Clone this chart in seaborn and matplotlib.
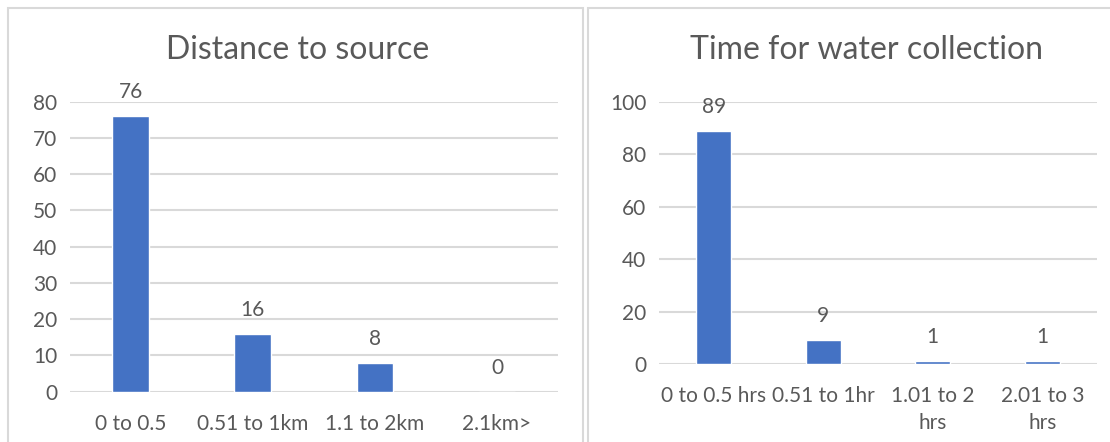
import matplotlib
matplotlib.use("Agg")
import matplotlib.pyplot as plt
from matplotlib.patches import Rectangle
import seaborn as sns
import pandas as pd

# Survey results
distance_labels = ["0 to 0.5", "0.51 to 1km", "1.1 to 2km", "2.1km>"]
distance_values = [76, 16, 8, 0]

time_labels = ["0 to 0.5 hrs", "0.51 to 1hr", "1.01 to 2\nhrs", "2.01 to 3\nhrs"]
time_values = [89, 9, 1, 1]

BAR = "#4472C4"
TEXT = "#595959"
GRID = "#D9D9D9"

sns.set_theme(style="white")
plt.rcParams["font.family"] = ["Lato", "DejaVu Sans"]

W, H = 1110, 442
fig = plt.figure(figsize=(W / 100, H / 100), dpi=100)
fig.patch.set_facecolor("white")


def px_axes(x0, x1, ytop, ybot):
    return fig.add_axes([x0 / W, 1 - ybot / H, (x1 - x0) / W, (ybot - ytop) / H])


# chart frames
for (x0, x1) in [(8, 583), (588, 1140)]:
    fig.add_artist(Rectangle((x0 / W, -0.1), (x1 - x0) / W, 1 - 8 / H + 0.1,
                             transform=fig.transFigure, fill=False,
                             edgecolor=GRID, linewidth=1.5))


def draw(ax, labels, values, ymax, step, width, title, title_x):
    df = pd.DataFrame({"cat": labels, "val": values})
    sns.barplot(data=df, x="cat", y="val", color=BAR, width=width,
                saturation=1, ax=ax, zorder=3)
    ax.set_xlim(-0.5, len(labels) - 0.5)
    ax.set_ylim(0, ymax)
    ax.set_yticks(range(0, ymax + 1, step))
    ax.yaxis.grid(True, color=GRID, linewidth=1.5, zorder=0)
    ax.set_axisbelow(True)
    for s in ax.spines.values():
        s.set_visible(False)
    ax.set_xlabel("")
    ax.set_ylabel("")
    ax.tick_params(axis="both", length=0, labelsize=15, colors=TEXT)
    ax.tick_params(axis="y", pad=9)
    ax.tick_params(axis="x", pad=16)
    for lab in ax.get_xticklabels():
        lab.set_linespacing(1.45)
        lab.set_verticalalignment("top")
    for i, v in enumerate(values):
        ax.annotate(str(v), (i, v), xytext=(0, 24), textcoords="offset pixels",
                    ha="center", va="center", fontsize=15, color=TEXT,
                    annotation_clip=False)
    fig.text(title_x / W, 1 - 50 / H, title, ha="center", va="center",
             fontsize=23, color=TEXT)


ax1 = px_axes(69.6, 558, 101.7, 391.7)
draw(ax1, distance_labels, distance_values, 80, 10, 0.30,
     "Distance to source", 298)

ax2 = px_axes(659, 1097, 101.7, 364)
draw(ax2, time_labels, time_values, 100, 20, 0.32,
     "Time for water collection", 867)

fig.savefig("out.png", dpi=100, facecolor="white")
